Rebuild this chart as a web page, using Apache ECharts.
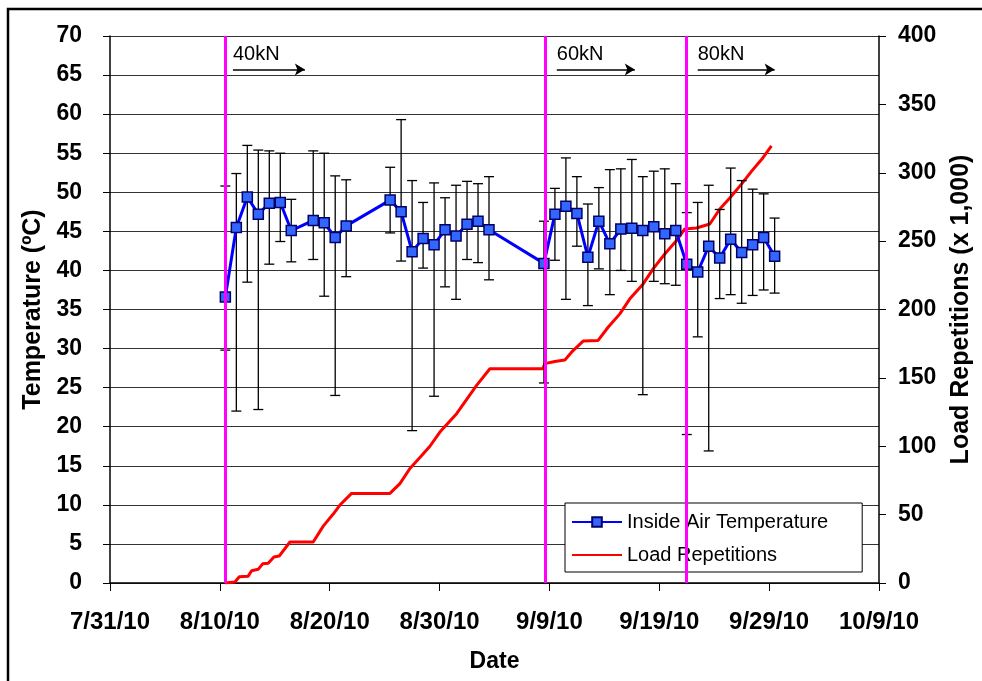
<!DOCTYPE html>
<html>
<head>
<meta charset="utf-8">
<script src="https://cdn.jsdelivr.net/npm/echarts@6/dist/echarts.min.js"></script>
<style>
  html, body { margin: 0; padding: 0; background: #fff; }
  #chart { width: 982px; height: 681px; }
</style>
</head>
<body>
<div id="chart"></div>
<script>
// x values are days since 7/31/10
var xTickLabels = ['7/31/10', '8/10/10', '8/20/10', '8/30/10', '9/9/10', '9/19/10', '9/29/10', '10/9/10'];

// inside air temperature (daily mean, max, min)
var tempDays = [10.5, 11.5, 12.5, 13.5, 14.5, 15.5, 16.5, 18.5, 19.5, 20.5, 21.5,
  25.5, 26.5, 27.5, 28.5, 29.5, 30.5, 31.5, 32.5, 33.5, 34.5,
  39.5, 40.5, 41.5, 42.5, 43.5, 44.5, 45.5, 46.5, 47.5, 48.5, 49.5, 50.5,
  51.5, 52.5, 53.5, 54.5, 55.5, 56.5, 57.5, 58.5, 59.5, 60.5];
var tempMean = [36.6, 45.5, 49.4, 47.2, 48.6, 48.7, 45.1, 46.4, 46.1, 44.2, 45.7,
  49.0, 47.5, 42.4, 44.1, 43.3, 45.2, 44.4, 45.9, 46.3, 45.2,
  40.9, 47.2, 48.2, 47.3, 41.7, 46.3, 43.4, 45.3, 45.4, 45.1, 45.6, 44.7,
  45.1, 40.8, 39.8, 43.1, 41.6, 44.0, 42.3, 43.3, 44.2, 41.8];
var tempMax = [50.8, 52.4, 56.0, 55.4, 55.3, 55.0, 49.1, 55.3, 55.0, 52.1, 51.6,
  53.2, 59.3, 51.5, 48.7, 51.2, 49.3, 50.9, 51.4, 51.1, 52.0,
  46.3, 50.5, 54.4, 52.0, 48.5, 50.6, 52.9, 53.0, 54.2, 52.0, 52.7, 53.0,
  51.1, 47.4, 48.7, 50.9, 47.8, 53.1, 51.5, 50.4, 49.8, 46.7];
var tempMin = [29.8, 22.0, 38.5, 22.2, 40.8, 43.7, 41.1, 41.4, 36.7, 24.0, 39.2,
  44.8, 41.2, 19.5, 40.3, 23.9, 37.9, 36.3, 41.4, 41.0, 38.8,
  25.6, 41.3, 36.3, 43.1, 35.5, 40.2, 36.9, 40.0, 38.6, 24.1, 38.6, 38.3,
  38.1, 19.0, 31.5, 16.9, 36.4, 36.9, 35.8, 36.8, 37.5, 37.1];

// cumulative load repetitions (x 1,000)
var loadDays = [10.46, 11.37, 11.77, 12.58, 12.89, 13.49, 13.89, 14.4, 14.92, 15.4, 16.38,
  18.5, 19.41, 20.32, 20.93, 21.99, 25.48, 26.39, 27.3, 28.21, 29.12, 30.03, 31.55,
  33.37, 34.58, 39.4, 39.58, 40.49, 41.4, 42.01, 43.07, 44.43, 45.34, 46.41, 47.32,
  48.53, 49.44, 50.5, 51.57, 52.32, 53.38, 54.6, 55.51, 56.42, 57.48, 58.39, 59.44, 60.21];
var loadReps = [0, 0.7, 4.6, 5, 9, 10, 14, 14.4, 19, 19.7, 30,
  30, 41.6, 50.4, 57, 65.5, 65.5, 72.7, 83.7, 91.7, 100, 110.4, 123.8,
  144.5, 156.7, 156.7, 160.4, 162, 163, 168.8, 176.9, 177.4, 187, 196.8, 207.8,
  218.7, 229.7, 240.6, 250.4, 258.9, 259.6, 262.5, 273.5, 281.5, 291.7, 301, 311, 319.7];

// load level changes
var loadChangeDays = [10.49, 39.58, 52.44];
var loadLevels = ['40kN', '60kN', '80kN'];
var arrowStart = [11.19, 40.67, 53.5];
var arrowEnd = [17.74, 47.77, 60.5];

var FONT = 'Liberation Sans';

function zip(xs, ys) {
  var out = [];
  for (var i = 0; i < xs.length; i++) out.push([xs[i], ys[i]]);
  return out;
}

var errData = [];
for (var i = 0; i < tempDays.length; i++) {
  errData.push([tempDays[i], tempMin[i], tempMax[i]]);
}

var arrowLines = [];
var arrowLabels = [];
for (var k = 0; k < loadLevels.length; k++) {
  arrowLines.push([{ coord: [arrowStart[k], 65.7] }, { coord: [arrowEnd[k], 65.7] }]);
  arrowLabels.push({ coord: [arrowStart[k], 67.6], value: loadLevels[k] });
}

var chart = echarts.init(document.getElementById('chart'));
var option = {
  backgroundColor: '#fff',
  animation: false,
  textStyle: { fontFamily: FONT },
  graphic: [{
    type: 'rect',
    shape: { x: 8, y: 9, width: 1000, height: 700 },
    style: { fill: 'none', stroke: '#000', lineWidth: 2.5 },
    silent: true
  }],
  grid: { left: 110, right: 103, top: 36, bottom: 98 },
  legend: {
    left: 565,
    top: 503,
    orient: 'vertical',
    data: [
      { name: 'Inside Air Temperature' },
      { name: 'Load Repetitions', itemStyle: { color: 'rgba(0,0,0,0)', borderWidth: 0 } }
    ],
    backgroundColor: '#fff',
    borderColor: '#000',
    borderWidth: 1,
    padding: [8, 34, 6, 6],
    itemWidth: 50,
    itemHeight: 12,
    itemGap: 11,
    textStyle: { fontFamily: FONT, fontSize: 20, color: '#000', lineHeight: 22 }
  },
  xAxis: {
    type: 'value',
    min: 0,
    max: 70,
    interval: 10,
    name: 'Date',
    nameLocation: 'middle',
    nameGap: 67,
    nameTextStyle: { fontFamily: FONT, fontSize: 23, fontWeight: 'bold', color: '#000' },
    axisLine: { onZero: false, lineStyle: { color: '#000', width: 1.5 } },
    axisTick: { length: 8, lineStyle: { color: '#000' } },
    axisLabel: {
      margin: 27,
      fontFamily: FONT, fontSize: 24, fontWeight: 'bold', color: '#000',
      formatter: function (v) { return xTickLabels[Math.round(v / 10)]; }
    },
    splitLine: { show: false }
  },
  yAxis: [{
    type: 'value',
    min: 0,
    max: 70,
    interval: 5,
    name: 'Temperature (ºC)',
    nameLocation: 'middle',
    nameGap: 63,
    nameRotate: 90,
    nameTextStyle: { fontFamily: FONT, fontSize: 25, fontWeight: 'bold', color: '#000' },
    axisLine: { show: true, lineStyle: { color: '#000', width: 1.5 } },
    axisTick: { show: true, length: 7, lineStyle: { color: '#000' } },
    axisLabel: { margin: 28, fontFamily: FONT, fontSize: 23, fontWeight: 'bold', color: '#000' },
    splitLine: { show: true, lineStyle: { color: '#333', width: 1.2 } }
  }, {
    type: 'value',
    min: 0,
    max: 400,
    interval: 50,
    position: 'right',
    name: 'Load Repetitions (x 1,000)',
    nameLocation: 'middle',
    nameGap: 70,
    nameRotate: 90,
    nameTextStyle: { fontFamily: FONT, fontSize: 25, fontWeight: 'bold', color: '#000' },
    axisLine: { show: true, lineStyle: { color: '#000', width: 1.5 } },
    axisTick: { show: true, length: 7, lineStyle: { color: '#000' } },
    axisLabel: { margin: 19, fontFamily: FONT, fontSize: 23, fontWeight: 'bold', color: '#000' },
    splitLine: { show: false }
  }],
  series: [{
    name: 'markers',
    type: 'line',
    data: [],
    z: 1,
    silent: true,
    markLine: {
      silent: true,
      symbol: ['none', 'none'],
      label: { show: false },
      lineStyle: { color: '#ff00ff', width: 3, type: 'solid' },
      data: loadChangeDays.map(function (d) { return { xAxis: d }; })
    }
  }, {
    name: 'arrows',
    type: 'line',
    data: [],
    z: 3,
    silent: true,
    markLine: {
      silent: true,
      symbol: ['none', 'arrow'],
      symbolSize: [9, 10],
      label: { show: false },
      lineStyle: { color: '#000', width: 1.5, type: 'solid' },
      data: arrowLines
    },
    markPoint: {
      silent: true,
      symbol: 'rect',
      symbolSize: 0,
      label: {
        show: true, position: 'right', distance: 0,
        fontFamily: FONT, fontSize: 20, color: '#000',
        formatter: function (p) { return p.value; }
      },
      data: arrowLabels
    }
  }, {
    name: 'Load Repetitions',
    type: 'line',
    yAxisIndex: 1,
    data: zip(loadDays, loadReps),
    showSymbol: false,
    symbol: 'none',
    z: 2,
    lineStyle: { color: '#ff0000', width: 3 },
    itemStyle: { color: '#ff0000' }
  }, {
    name: 'errorbars',
    type: 'custom',
    z: 3,
    data: errData,
    renderItem: function (params, api) {
      var x = api.value(0);
      var lo = api.coord([x, api.value(1)]);
      var hi = api.coord([x, api.value(2)]);
      var w = 5;
      var st = { stroke: '#000', lineWidth: 1.3 };
      return {
        type: 'group',
        children: [
          { type: 'line', shape: { x1: lo[0], y1: lo[1], x2: hi[0], y2: hi[1] }, style: st },
          { type: 'line', shape: { x1: lo[0] - w, y1: lo[1], x2: lo[0] + w, y2: lo[1] }, style: st },
          { type: 'line', shape: { x1: hi[0] - w, y1: hi[1], x2: hi[0] + w, y2: hi[1] }, style: st }
        ]
      };
    }
  }, {
    name: 'Inside Air Temperature',
    type: 'line',
    data: zip(tempDays, tempMean),
    z: 4,
    symbol: 'rect',
    symbolSize: 10,
    showAllSymbol: true,
    lineStyle: { color: '#0000ff', width: 3 },
    itemStyle: { color: '#3366ff', borderColor: '#000066', borderWidth: 1.5 }
  }]
};
chart.setOption(option);
</script>
</body>
</html>
